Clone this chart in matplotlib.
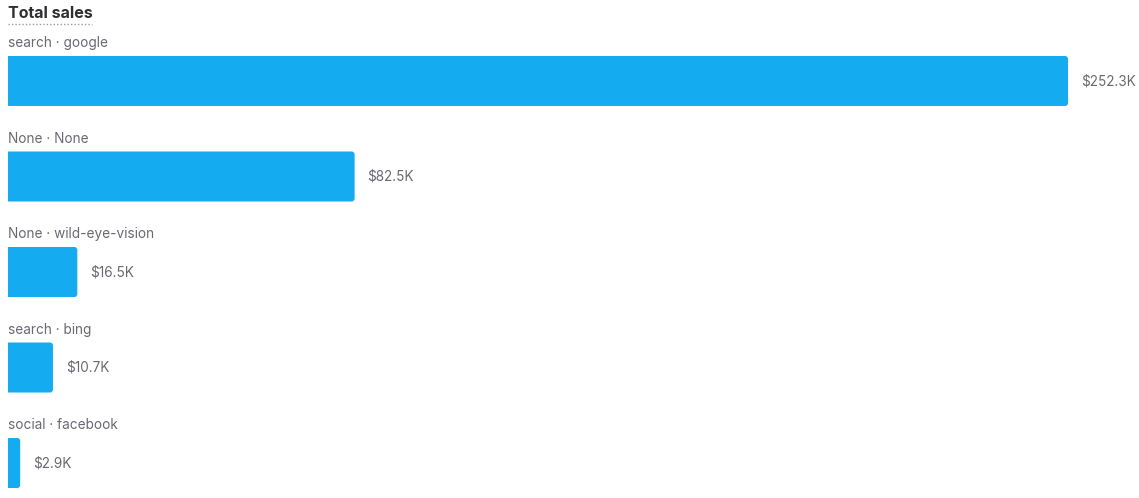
import matplotlib
matplotlib.use("Agg")
import matplotlib.pyplot as plt
from matplotlib.path import Path
from matplotlib.patches import PathPatch

categories = [
    "search · google",
    "None · None",
    "None · wild-eye-vision",
    "search · bing",
    "social · facebook",
]
sales_k = [252.3, 82.5, 16.5, 10.7, 2.9]
value_labels = ["$252.3K", "$82.5K", "$16.5K", "$10.7K", "$2.9K"]

plt.rcParams["font.family"] = ["Inter", "DejaVu Sans"]

W, H = 1139, 498
fig = plt.figure(figsize=(W / 100, H / 100), dpi=100)
ax = fig.add_axes([8 / W, 0, 1060 / W, 1])

step = 95.5
ax.set_xlim(0, max(sales_k))
ax.set_ylim((H - 81) / step, -81 / step)

bar_color = "#14abf0"
text_color = "#696973"
ys = list(range(len(categories)))
bars = ax.barh(ys, sales_k, height=50 / step, color=bar_color, edgecolor="none")

px_x = max(sales_k) / 1060
px_y = 1 / step


def right_rounded(x0, y0, w, h, rx, ry):
    rx = min(rx, w / 2)
    x1, y1 = x0 + w, y0 + h
    verts = [(x0, y0), (x1 - rx, y0), (x1, y0), (x1, y0 + ry),
             (x1, y1 - ry), (x1, y1), (x1 - rx, y1), (x0, y1), (x0, y0)]
    codes = [Path.MOVETO, Path.LINETO, Path.CURVE3, Path.CURVE3,
             Path.LINETO, Path.CURVE3, Path.CURVE3, Path.LINETO, Path.CLOSEPOLY]
    return Path(verts, codes)


# swap the plain bars for ones with rounded right corners
for b in bars:
    b.set_visible(False)
    p = right_rounded(b.get_x(), b.get_y(), b.get_width(), b.get_height(),
                      3 * px_x, 3 * px_y)
    ax.add_patch(PathPatch(p, facecolor=bar_color, edgecolor="none"))

for y, v, cat, lab in zip(ys, sales_k, categories, value_labels):
    ax.text(0, y - 38 / step, cat, ha="left", va="center",
            fontsize=9.8, color=text_color, clip_on=False)
    ax.text(v + 13 * px_x, y, lab, ha="left", va="center",
            fontsize=9.8, color=text_color, clip_on=False)

ax.axis("off")

fig.text(8 / W, 1 - 14 / H, "Total sales", ha="left", va="center",
         fontsize=11.5, fontweight="bold", color="#2e2e33")
fig.add_artist(plt.Line2D([8 / W, 92 / W], [1 - 24.5 / H, 1 - 24.5 / H],
                          color="#9a9aa3", linewidth=1, linestyle=(0, (1, 1.5))))

fig.savefig("out.png", dpi=100)
